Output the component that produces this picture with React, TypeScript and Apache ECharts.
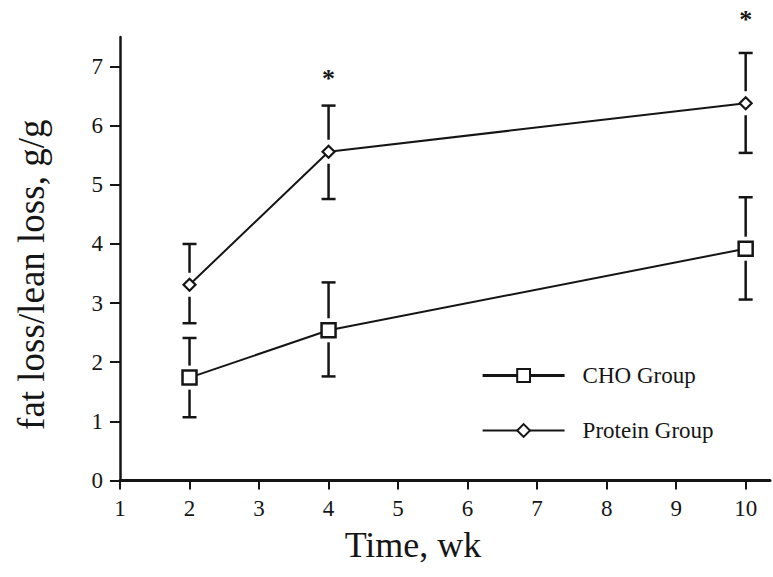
import React, { useEffect, useRef } from "react";
import * as echarts from "echarts";

const weeks = [2, 4, 10];
const choMean = [1.74, 2.54, 3.92];
const choLow = [1.07, 1.76, 3.06];
const choHigh = [2.41, 3.35, 4.79];
const proteinMean = [3.31, 5.56, 6.38];
const proteinLow = [2.66, 4.76, 5.54];
const proteinHigh = [4.0, 6.34, 7.23];
const starWeeks = [4, 10];
const starValues = [6.8, 7.79];
const xTicks = [1, 2, 3, 4, 5, 6, 7, 8, 9, 10];
const yTicks = [0, 1, 2, 3, 4, 5, 6, 7];

const INK = "#151515";
const FONT = "'Liberation Serif', 'DejaVu Serif', serif";

export default function App() {
  const ref = useRef<HTMLDivElement>(null);
  useEffect(() => {
    document.body.style.margin = "0";
    const chart = echarts.init(ref.current!, null, { renderer: "svg" });

    const errData = (lo: number[], hi: number[], m: number[]) =>
      weeks.map((w, i) => [w, lo[i], hi[i], m[i]]);

    const errorRender = (params: any, api: any) => {
      const x = api.value(0);
      const pLo = api.coord([x, api.value(1)]);
      const pHi = api.coord([x, api.value(2)]);
      const pM = api.coord([x, api.value(3)]);
      const gap = 12;
      const cap = 7;
      const style = { stroke: INK, lineWidth: 2.5 };
      return {
        type: "group",
        children: [
          { type: "line", shape: { x1: pHi[0], y1: pHi[1], x2: pM[0], y2: pM[1] - gap }, style },
          { type: "line", shape: { x1: pM[0], y1: pM[1] + gap, x2: pLo[0], y2: pLo[1] }, style },
          { type: "line", shape: { x1: pHi[0] - cap, y1: pHi[1], x2: pHi[0] + cap, y2: pHi[1] }, style },
          { type: "line", shape: { x1: pLo[0] - cap, y1: pLo[1], x2: pLo[0] + cap, y2: pLo[1] }, style },
        ],
      };
    };

    const starRender = (params: any, api: any) => {
      const p = api.coord([api.value(0), api.value(1)]);
      return {
        type: "text",
        x: p[0],
        y: p[1],
        style: {
          text: "*",
          fontSize: 26,
          fontWeight: "bold",
          fontFamily: FONT,
          fill: INK,
          align: "center",
          verticalAlign: "middle",
        },
      };
    };

    const labelStyle = {
      fontFamily: FONT,
      fontSize: 23,
      color: INK,
      showMaxLabel: false,
    };

    chart.setOption({
      animation: false,
      backgroundColor: "#ffffff",
      textStyle: { fontFamily: FONT },
      grid: { left: 120, right: 3, top: 37, bottom: 96.5 },
      xAxis: {
        type: "value",
        min: 1,
        max: 10.35,
        interval: 1,
        name: "Time, wk",
        nameLocation: "middle",
        nameGap: 46,
        nameTextStyle: { fontFamily: FONT, fontSize: 36, color: INK, padding: [0, 64, 0, 0] },
        axisLine: { lineStyle: { color: INK, width: 3 } },
        axisTick: { show: true, length: 9, inside: false, lineStyle: { color: INK, width: 2 }, customValues: xTicks },
        axisLabel: { ...labelStyle, margin: 16, formatter: (v: number) => (xTicks.includes(v) ? String(v) : "") },
        splitLine: { show: false },
      },
      yAxis: {
        type: "value",
        min: 0,
        max: 7.5,
        interval: 1,
        name: "fat loss/lean loss, g/g",
        nameLocation: "middle",
        nameGap: 70,
        nameRotate: 90,
        nameTextStyle: { fontFamily: FONT, fontSize: 37, color: INK, padding: [0, 32, 0, 0] },
        axisLine: { show: true, lineStyle: { color: INK, width: 2.5 } },
        axisTick: { show: true, length: 10, inside: false, lineStyle: { color: INK, width: 2 }, customValues: yTicks },
        axisLabel: { ...labelStyle, margin: 17, formatter: (v: number) => (yTicks.includes(v) ? String(v) : "") },
        splitLine: { show: false },
      },
      legend: {
        orient: "vertical",
        left: 476,
        top: 359,
        itemWidth: 82,
        itemHeight: 16,
        itemGap: 32,
        textStyle: { fontFamily: FONT, fontSize: 23, color: INK, padding: [0, 0, 0, 13] },
        data: [
          { name: "CHO Group", lineStyle: { width: 3.2 } },
          { name: "Protein Group", lineStyle: { width: 2 } },
        ],
      },
      series: [
        {
          name: "CHO Group err",
          type: "custom",
          renderItem: errorRender,
          data: errData(choLow, choHigh, choMean),
          z: 1,
        },
        {
          name: "Protein Group err",
          type: "custom",
          renderItem: errorRender,
          data: errData(proteinLow, proteinHigh, proteinMean),
          z: 1,
        },
        {
          name: "CHO Group",
          type: "line",
          data: weeks.map((w, i) => [w, choMean[i]]),
          symbol: "rect",
          symbolSize: 14,
          lineStyle: { color: INK, width: 2 },
          itemStyle: { color: "#ffffff", borderColor: INK, borderWidth: 2.5 },
          z: 3,
        },
        {
          name: "Protein Group",
          type: "line",
          data: weeks.map((w, i) => [w, proteinMean[i]]),
          symbol: "diamond",
          symbolSize: 12,
          lineStyle: { color: INK, width: 2 },
          itemStyle: { color: "#ffffff", borderColor: INK, borderWidth: 2.2 },
          z: 3,
        },
        {
          name: "stars",
          type: "custom",
          renderItem: starRender,
          clip: false,
          data: starWeeks.map((w, i) => [w, starValues[i]]),
          z: 4,
        },
      ],
    });
    return () => chart.dispose();
  }, []);
  return <div ref={ref} style={{ width: 773, height: 577 }} />;
}
